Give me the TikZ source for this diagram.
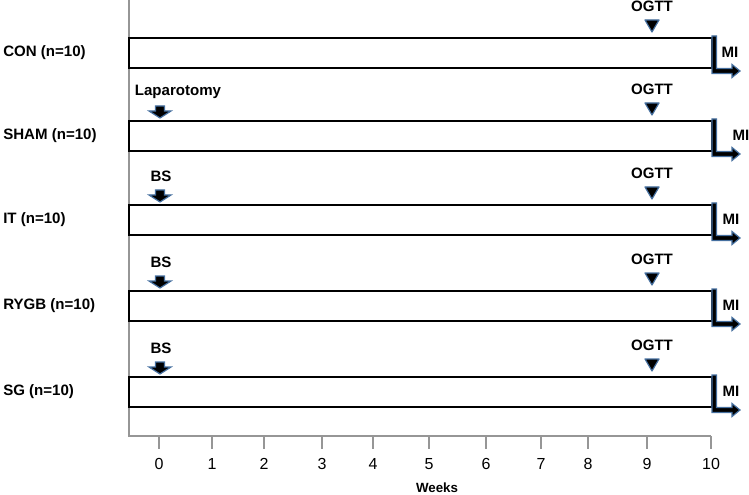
\documentclass[tikz,border=0pt]{standalone}
\usepackage{fontspec}
\setmainfont{Liberation Sans}
\usetikzlibrary{arrows.meta}
\definecolor{markblue}{RGB}{70,112,160}
\definecolor{axisgray}{RGB}{150,150,150}

\begin{document}
\begin{tikzpicture}[x=0.75pt, y=-0.75pt,
    lbl/.style={font=\fontsize{11.3}{13}\selectfont\bfseries, inner sep=0pt},
    grp/.style={lbl, anchor=west},
    ticklbl/.style={font=\fontsize{12}{14}\selectfont, inner sep=0pt},
    bar/.style={draw, line width=1.3pt, anchor=west, inner sep=0pt, outer sep=0pt,
      minimum width=437.25pt, minimum height=22.5pt},
    axis/.style={axisgray, line width=1.2pt},
    pics/ogtt/.style={code={
      \draw[markblue, fill=black, line width=0.9pt, line join=round]
        (-7,-12) -- (7,-12) -- (0,0) -- cycle;}},
    pics/oparrow/.style={code={
      \draw[markblue, fill=black, line width=0.9pt]
        (-4.5,-12) -- (4.5,-12) -- (4.5,-7) -- (11,-7) -- (0,0)
        -- (-11,-7) -- (-4.5,-7) -- cycle;}},
    pics/miarrow/.style={code={
      \draw[markblue, fill=black, line width=0.9pt]
        (0,0) -- (4.5,0) -- (4.5,32.5) -- (20,32.5) -- (20,28.5) -- (28,35)
        -- (20,41.5) -- (20,37.5) -- (0,37.5) -- cycle;}}]

  \useasboundingbox (0,0) rectangle (749,495);

  % axes
  \coordinate (ytop) at (129,0);
  \coordinate (origin) at (129,436);
  \coordinate (xend) at (711,436);
  \draw[axis] (ytop) -- (origin) -- (xend);
  \foreach \w/\x in {0/159,1/212,2/264,3/322,4/373,5/429,6/486,7/541,8/588,9/647,10/711} {
    \draw[axisgray, line width=1pt] (\x,436) -- (\x,449);
    \node[ticklbl] (tick\w) at (\x,464) {\w};
  }
  \node[lbl, font=\fontsize{10}{12}\selectfont\bfseries] (weeks) at (437,488) {Weeks};

  % groups
  \foreach \n/\t/\y/\m in {con/{CON (n=10)}/53/730, sham/{SHAM (n=10)}/136/741,
      it/{IT (n=10)}/220/731, rygb/{RYGB (n=10)}/306/731, sg/{SG (n=10)}/392/731} {
    \node[grp] (\n-lab) at (3,\y) {\t};
    \node[bar] (\n) at (129,\y) {};
    \node[lbl] (\n-ogtt) at (652,\y-47) {OGTT};
    \pic at (652,\y-21) {ogtt};
    \pic at (712,\y-17) {miarrow};
    \node[lbl] (\n-mi) at (\m,\y-1) {MI};
  }

  % surgery
  \foreach \n/\t/\x/\y in {sham/Laparotomy/178/136, it/BS/161/220, rygb/BS/161/306, sg/BS/161/392} {
    \node[lbl] (\n-op) at (\x,\y-44) {\t};
    \pic at (160,\y-18) {oparrow};
  }
\end{tikzpicture}
\end{document}
